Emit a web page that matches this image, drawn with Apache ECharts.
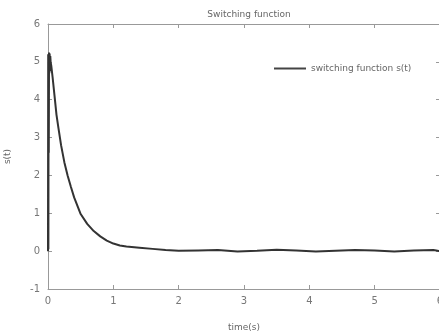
<!DOCTYPE html>
<html>
<head>
<meta charset="utf-8">
<script src="https://cdn.jsdelivr.net/npm/echarts@6/dist/echarts.min.js"></script>
<style>
  html, body { margin: 0; padding: 0; background: #fff; }
  #chart { width: 439px; height: 333px; }
</style>
</head>
<body>
<div id="chart"></div>
<script>
// time (s) and switching function s(t)
const timeVals = [0, 0.003, 0.006, 0.009, 0.012, 0.016, 0.02, 0.025, 0.03, 0.035, 0.04,
  0.05, 0.07, 0.1, 0.13, 0.16, 0.2, 0.25, 0.3, 0.35, 0.4, 0.5, 0.6, 0.7, 0.8, 0.9,
  1.0, 1.1, 1.2, 1.4, 1.6, 1.8, 2.0, 2.3, 2.6, 2.9, 3.2, 3.5, 3.8, 4.1, 4.4, 4.7,
  5.0, 5.3, 5.6, 5.9, 6.0]
const sVals = [0, 5.2, 0.05, 5.1, 2.6, 5.25, 4.7, 5.22, 4.75, 5.15, 5.0,
  4.9, 4.6, 4.1, 3.6, 3.25, 2.8, 2.35, 2.0, 1.7, 1.42, 0.98, 0.72, 0.53, 0.39, 0.28,
  0.2, 0.15, 0.12, 0.09, 0.06, 0.03, 0.01, 0.02, 0.03, -0.01, 0.01, 0.04, 0.02, -0.01, 0.01, 0.03,
  0.02, -0.01, 0.02, 0.03, 0.0]
const xTicks = [0, 1, 2, 3, 4, 5, 6]
const yTicks = [-1, 0, 1, 2, 3, 4, 5, 6]
const seriesName = 'switching function s(t)'

const chart = echarts.init(document.getElementById('chart'))

const axisColor = '#999'
const labelColor = '#777'
const font = 'DejaVu Sans'
const tick = { show: true, inside: true, length: 4, lineStyle: { color: axisColor } }
const line = { show: true, onZero: false, lineStyle: { color: axisColor } }

chart.setOption({
  animation: false,
  title: {
    text: 'Switching function',
    left: 244,
    textAlign: 'center',
    top: 5,
    textStyle: { fontSize: 9, fontWeight: 'normal', color: '#666', fontFamily: font },
  },
  legend: {
    data: [seriesName],
    left: 269,
    top: 59,
    icon: 'rect',
    itemWidth: 32,
    itemHeight: 2,
    itemGap: 5,
    textStyle: { fontSize: 9, color: '#666', fontFamily: font, padding: [0, 0, 0, 0] },
  },
  grid: { left: 48, right: -1, top: 24, bottom: 44, outerBoundsMode: 'none' },
  xAxis: [
    {
      type: 'value',
      min: xTicks[0],
      max: xTicks[xTicks.length - 1],
      interval: 1,
      name: 'time(s)',
      nameLocation: 'middle',
      nameGap: 34,
      nameTextStyle: { fontSize: 9, color: '#666', fontFamily: font },
      axisLine: line,
      axisTick: tick,
      axisLabel: { fontSize: 10, color: labelColor, margin: 7, fontFamily: font },
      splitLine: { show: false },
    },
    {
      type: 'value',
      position: 'top',
      min: xTicks[0],
      max: xTicks[xTicks.length - 1],
      interval: 1,
      axisLine: line,
      axisTick: tick,
      axisLabel: { show: false },
      splitLine: { show: false },
    },
  ],
  yAxis: [
    {
      type: 'value',
      min: yTicks[0],
      max: yTicks[yTicks.length - 1],
      interval: 1,
      name: 's(t)',
      nameLocation: 'middle',
      nameGap: 36,
      nameTextStyle: { fontSize: 9, color: '#666', fontFamily: font },
      axisLine: line,
      axisTick: tick,
      axisLabel: { fontSize: 10, color: labelColor, margin: 8, fontFamily: font },
      splitLine: { show: false },
    },
    {
      type: 'value',
      position: 'right',
      min: yTicks[0],
      max: yTicks[yTicks.length - 1],
      interval: 1,
      axisLine: line,
      axisTick: tick,
      axisLabel: { show: false },
      splitLine: { show: false },
    },
  ],
  series: [
    {
      name: seriesName,
      type: 'line',
      data: timeVals.map((t, i) => [t, sVals[i]]),
      symbol: 'none',
      smooth: false,
      lineStyle: { color: '#333', width: 2 },
      itemStyle: { color: '#444' },
    },
  ],
})
</script>
</body>
</html>
